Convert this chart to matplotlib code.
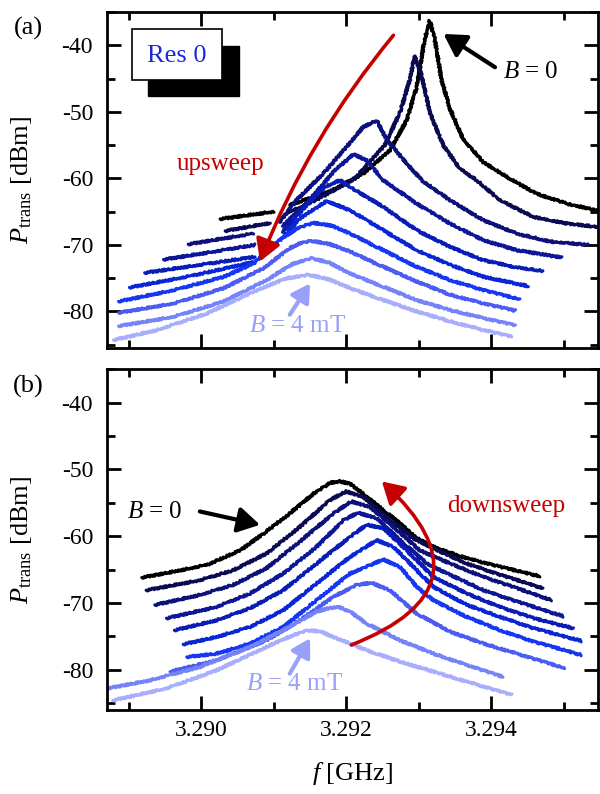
import numpy as np
import matplotlib.pyplot as plt
from matplotlib.patches import Rectangle

plt.rcParams['font.family'] = ['Liberation Serif', 'DejaVu Serif']
plt.rcParams['mathtext.fontset'] = 'custom'
plt.rcParams['mathtext.rm'] = 'Liberation Serif'
plt.rcParams['mathtext.it'] = 'Liberation Serif:italic'
plt.rcParams['axes.unicode_minus'] = False

nan = np.nan

# (a) upsweep, B = 0 ... 4 mT  (f in GHz, P in dBm)
a1_f = [3.29026, 3.29100, nan, 3.29122, 3.29177, 3.29223, 3.29260, 3.29283, 3.29297, 3.29308, 3.29315,
        3.29322, 3.29331, 3.29343, 3.29361, 3.29389, 3.29426, 3.29462, 3.29504, 3.29545]
a1_p = [-66.1, -65.0, nan, -64.0, -62.0, -59.3, -55.8, -51.3, -46.3, -39.1, -36.3,
        -39.1, -45.1, -49.6, -54.1, -57.6, -60.1, -62.3, -63.8, -64.8]
a2_f = [3.29033, 3.29064, 3.29095, nan, 3.29115, 3.29163, 3.29212, 3.29253, 3.29274, 3.29288, 3.29294,
        3.29304, 3.29315, 3.29334, 3.29357, 3.29380, 3.29412, 3.29458, 3.29504, 3.29547]
a2_p = [-67.9, -67.3, -66.7, nan, -65.4, -63.0, -60.0, -55.0, -50.1, -45.0, -41.6,
        -44.6, -50.1, -55.1, -58.6, -60.3, -63.3, -65.8, -66.8, -67.3]
a3_f = [3.28982, 3.29026, 3.29072, nan, 3.29108, 3.29131, 3.29168, 3.29200, 3.29223, 3.29242,
        3.29255, 3.29278, 3.29304, 3.29343, 3.29389, 3.29435, 3.29481, 3.29533]
a3_p = [-69.9, -69.1, -68.3, nan, -66.6, -63.3, -59.3, -55.3, -52.3, -51.3,
        -54.1, -57.1, -60.3, -63.3, -66.3, -68.3, -69.5, -70.0]
a4_f = [3.28948, 3.29012, 3.29074, nan, 3.29112, 3.29149, 3.29184, 3.29210,
        3.29228, 3.29251, 3.29297, 3.29343, 3.29389, 3.29435, 3.29497]
a4_p = [-72.2, -71.1, -70.0, nan, -67.2, -63.3, -58.8, -56.4,
        -57.3, -60.3, -63.8, -66.8, -69.3, -70.8, -71.9]
a5_f = [3.28922, 3.28998, 3.29074, nan, 3.29112, 3.29143, 3.29170, 3.29191,
        3.29205, 3.29251, 3.29297, 3.29343, 3.29389, 3.29435, 3.29471]
a5_p = [-74.2, -73.0, -71.8, nan, -68.1, -64.3, -61.3, -60.3,
        -61.3, -64.3, -67.8, -70.3, -72.3, -73.4, -73.9]
a6_f = [3.28901, 3.28984, 3.29072, nan, 3.29112, 3.29136, 3.29173,
        3.29205, 3.29251, 3.29297, 3.29343, 3.29389, 3.29451]
a6_p = [-76.4, -74.7, -72.6, nan, -69.0, -66.0, -63.4,
        -64.8, -67.8, -70.8, -73.0, -74.8, -76.2]
a7_f = [3.28886, 3.28962, 3.29031, 3.29072, 3.29108, 3.29132, 3.29154, 3.29180,
        3.29205, 3.29251, 3.29297, 3.29343, 3.29389, 3.29439]
a7_p = [-78.5, -76.8, -74.8, -72.8, -69.3, -67.5, -66.7, -67.1,
        -68.3, -70.8, -73.3, -75.3, -76.8, -78.2]
a8_f = [3.28886, 3.28962, 3.29031, 3.29086, 3.29122, 3.29137, 3.29152, 3.29178,
        3.29205, 3.29251, 3.29297, 3.29343, 3.29389, 3.29433]
a8_p = [-80.2, -78.8, -76.5, -73.5, -70.5, -69.7, -69.4, -69.9,
        -71.0, -73.3, -75.5, -77.5, -78.8, -79.9]
a9_f = [3.28886, 3.28962, 3.29031, 3.29090, 3.29127, 3.29152, 3.29177,
        3.29205, 3.29251, 3.29297, 3.29343, 3.29389, 3.29433]
a9_p = [-82.2, -80.8, -78.5, -75.3, -72.8, -72.0, -72.7,
        -74.3, -76.3, -78.3, -79.8, -81.0, -82.1]
a10_f = [3.28879, 3.28939, 3.29008, 3.29077, 3.29118, 3.29148, 3.29177,
         3.29205, 3.29251, 3.29297, 3.29343, 3.29389, 3.29428]
a10_p = [-84.3, -82.8, -80.3, -76.8, -75.0, -74.5, -75.2,
         -76.5, -78.3, -80.0, -81.5, -82.8, -83.8]

# (b) downsweep
b1_f = [3.28918, 3.28962, 3.29008, 3.29054, 3.29086, 3.29122, 3.29155, 3.29178, 3.29191,
        3.29205, 3.29228, 3.29251, 3.29274, 3.29297, 3.29324, 3.29366, 3.29412, 3.29467]
b1_p = [-66.2, -65.3, -64.3, -62.1, -59.6, -56.6, -53.6, -52.0, -51.8,
        -52.1, -54.1, -56.1, -58.1, -60.3, -61.8, -63.3, -64.6, -66.0]
b2_f = [3.28924, 3.28998, 3.29044, 3.29090, 3.29136, 3.29177, 3.29200,
        3.29223, 3.29255, 3.29292, 3.29329, 3.29366, 3.29412, 3.29471]
b2_p = [-68.1, -66.6, -65.1, -62.6, -58.6, -54.6, -53.3,
        -54.1, -57.1, -60.3, -62.3, -64.1, -65.8, -67.8]
b3_f = [3.28936, 3.28998, 3.29044, 3.29090, 3.29136, 3.29182, 3.29207,
        3.29232, 3.29265, 3.29301, 3.29343, 3.29389, 3.29435, 3.29483]
b3_p = [-70.3, -68.8, -67.3, -64.8, -60.8, -56.6, -54.8,
        -55.6, -58.6, -62.1, -64.1, -66.1, -67.8, -69.6]
b4_f = [3.28952, 3.29021, 3.29067, 3.29113, 3.29159, 3.29196, 3.29216,
        3.29242, 3.29274, 3.29311, 3.29343, 3.29389, 3.29435, 3.29499]
b4_p = [-72.3, -70.6, -68.6, -65.6, -61.6, -57.6, -56.5,
        -57.3, -60.6, -64.1, -65.8, -68.1, -69.8, -72.0]
b5_f = [3.28963, 3.29021, 3.29067, 3.29113, 3.29159, 3.29205, 3.29228,
        3.29251, 3.29283, 3.29320, 3.29366, 3.29412, 3.29458, 3.29513]
b5_p = [-74.1, -72.6, -70.8, -68.1, -64.1, -60.1, -58.3,
        -58.8, -62.1, -66.1, -68.6, -70.6, -72.3, -73.8]
b6_f = [3.28975, 3.29021, 3.29067, 3.29113, 3.29159, 3.29205, 3.29242,
        3.29265, 3.29297, 3.29320, 3.29366, 3.29412, 3.29458, 3.29524]
b6_p = [-76.2, -75.1, -73.6, -71.1, -67.1, -63.1, -60.6,
        -61.6, -65.1, -67.6, -70.3, -72.1, -73.8, -75.7]
b7_f = [3.28980, 3.29021, 3.29067, 3.29113, 3.29159, 3.29205, 3.29251,
        3.29274, 3.29297, 3.29320, 3.29366, 3.29412, 3.29458, 3.29524]
b7_p = [-78.1, -77.6, -76.1, -73.6, -69.6, -65.6, -63.5,
        -64.6, -67.6, -69.6, -72.1, -74.1, -75.8, -77.8]
b8_f = [3.28957, 3.29021, 3.29090, 3.29136, 3.29182, 3.29214, 3.29235,
        3.29260, 3.29297, 3.29343, 3.29389, 3.29435, 3.29501]
b8_p = [-80.3, -78.6, -75.6, -72.6, -69.1, -67.3, -67.0,
        -68.1, -71.6, -74.3, -76.1, -77.6, -79.8]
b9_f = [3.28871, 3.28929, 3.28998, 3.29067, 3.29113, 3.29159, 3.29175, 3.29189, 3.29205,
        3.29228, 3.29274, 3.29320, 3.29366, 3.29416]
b9_p = [-82.8, -81.6, -79.6, -76.6, -74.1, -71.3, -70.8, -70.6, -71.3,
        -73.1, -75.6, -77.6, -79.3, -81.1]
b10_f = [3.28878, 3.28952, 3.29021, 3.29090, 3.29127, 3.29147, 3.29165,
         3.29182, 3.29228, 3.29274, 3.29320, 3.29366, 3.29428]
b10_p = [-84.6, -82.8, -80.1, -76.6, -74.8, -74.1, -74.3,
         -75.1, -77.1, -78.8, -80.3, -81.8, -83.8]

colors = ['#000000', '#0a0a52', '#0c1078', '#0c1696', '#0a1cb6', '#0a26d4',
          '#1536f2', '#4c5cf2', '#7483f8', '#a7aefc']
red = '#c40000'
light = '#98a0fa'

up_curves = [(a1_f, a1_p), (a2_f, a2_p), (a3_f, a3_p), (a4_f, a4_p), (a5_f, a5_p),
             (a6_f, a6_p), (a7_f, a7_p), (a8_f, a8_p), (a9_f, a9_p), (a10_f, a10_p)]
down_curves = [(b1_f, b1_p), (b2_f, b2_p), (b3_f, b3_p), (b4_f, b4_p), (b5_f, b5_p),
               (b6_f, b6_p), (b7_f, b7_p), (b8_f, b8_p), (b9_f, b9_p), (b10_f, b10_p)]


def draw_curves(ax, curves):
    for (f, p), c in zip(curves, colors):
        line, = ax.plot(f, p, color=c, lw=2.3, solid_joinstyle='round', solid_capstyle='round')
        # measurement noise look
        line.set_sketch_params(1.0, 3.0, 2.0)


def style_axis(ax, ylim):
    ax.set_xlim(3.2887, 3.29547)
    ax.set_ylim(*ylim)
    ax.set_xticks([3.290, 3.292, 3.294])
    ax.set_xticklabels(['3.290', '3.292', '3.294'])
    ax.set_xticks([3.289, 3.291, 3.293, 3.295], minor=True)
    ax.set_yticks([-80, -70, -60, -50, -40])
    ax.set_yticks([-85, -75, -65, -55, -45, -35], minor=True)
    ax.tick_params(which='both', direction='in', top=True, right=True, width=2.0, labelsize=17)
    ax.tick_params(which='major', length=10)
    ax.tick_params(which='minor', length=6)
    ax.tick_params(axis='y', pad=10)
    ax.tick_params(axis='x', pad=7)
    for s in ax.spines.values():
        s.set_linewidth(2.0)
    ax.set_ylabel(r'$P_{\rm trans}$ [dBm]', fontsize=19)
    ax.yaxis.set_label_coords(-0.148, 0.5)


def arrow(ax, head, tail, color, lw, rad=0.0, scale=22):
    ax.annotate('', xy=head, xytext=tail,
                arrowprops=dict(arrowstyle='-|>,head_length=0.6,head_width=0.35', color=color, lw=lw,
                                mutation_scale=scale, shrinkA=0, shrinkB=0,
                                connectionstyle='arc3,rad=%s' % rad))


fig = plt.figure(figsize=(6, 7.94), dpi=100)
ax1 = fig.add_axes([107 / 600, 1 - 348 / 794, 491 / 600, 336 / 794])
ax2 = fig.add_axes([107 / 600, 1 - 710 / 794, 491 / 600, 341 / 794])

# (a) upsweep
draw_curves(ax1, up_curves)
style_axis(ax1, (-85.5, -35))
ax1.tick_params(labelbottom=False)

ax1.add_patch(Rectangle((0.083, 0.750), 0.186, 0.150, transform=ax1.transAxes,
                        facecolor='black', edgecolor='black', zorder=5))
ax1.add_patch(Rectangle((0.051, 0.798), 0.183, 0.150, transform=ax1.transAxes,
                        facecolor='white', edgecolor='black', lw=1.2, zorder=6))
ax1.text(0.1425, 0.870, 'Res 0', transform=ax1.transAxes, color='#1a2ad8', fontsize=19,
         ha='center', va='center', zorder=7)

arrow(ax1, (3.29334, -38.3), (3.29405, -43.3), 'black', 3.0)
ax1.text(3.29416, -44.0, r'$B$ = 0', fontsize=18, ha='left', va='center')
arrow(ax1, (3.29081, -72.5), (3.29265, -38.5), red, 2.6, rad=0.08)
ax1.text(3.29026, -57.9, 'upsweep', color=red, fontsize=18, ha='center', va='center')
arrow(ax1, (3.29150, -75.8), (3.29122, -80.5), light, 3.0, scale=18)
ax1.text(3.29133, -82.2, r'$B$ = 4 mT', color=light, fontsize=18, ha='center', va='center')

# (b) downsweep
draw_curves(ax2, down_curves)
style_axis(ax2, (-86.05, -34.95))
ax2.set_xlabel(r'$f$ [GHz]', fontsize=19, labelpad=14)

arrow(ax2, (3.29081, -58.3), (3.28998, -56.3), 'black', 3.0)
ax2.text(3.28936, -56.4, r'$B$ = 0', fontsize=18, ha='center', va='center')
arrow(ax2, (3.29249, -51.8), (3.29207, -76.3), red, 2.6, rad=0.8)
ax2.text(3.29420, -55.5, 'downsweep', color=red, fontsize=18, ha='center', va='center')
arrow(ax2, (3.29150, -75.3), (3.29122, -80.6), light, 3.0, scale=18)
ax2.text(3.29129, -82.2, r'$B$ = 4 mT', color=light, fontsize=18, ha='center', va='center')

fig.text(0.0475, 0.964, '(a)', fontsize=19, ha='center', va='center')
fig.text(0.0475, 0.513, '(b)', fontsize=19, ha='center', va='center')

plt.savefig('out.png', dpi=100)
